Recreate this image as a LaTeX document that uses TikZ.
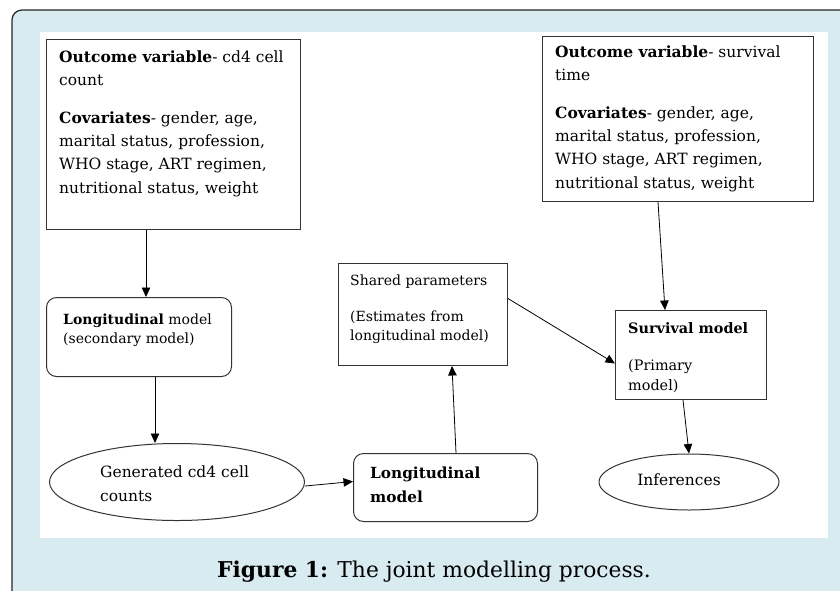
\documentclass[tikz,border=0pt]{standalone}
\usepackage{fontspec}
\setmainfont{DejaVu Serif}
\usetikzlibrary{arrows.meta,shapes.geometric}
\definecolor{framebg}{HTML}{D8EBF1}
\definecolor{lineclr}{HTML}{333333}
\begin{document}
\begin{tikzpicture}[x=1pt,y=-1pt,
  box/.style={draw=lineclr, line width=1pt, rectangle, anchor=north west, inner sep=0pt},
  rbox/.style={box, rounded corners=10pt},
  oval/.style={draw=lineclr, line width=1pt, ellipse, inner sep=0pt},
  txt/.style={anchor=base west, align=left, inner sep=0pt, font=\fontsize{15.5}{23.3}\selectfont},
  stxt/.style={anchor=base west, align=left, inner sep=0pt, font=\fontsize{14}{19}\selectfont},
  arr/.style={draw=black, line width=0.8pt, -{Triangle[length=9.5pt,width=8.5pt]}}]
\useasboundingbox (0,0) rectangle (840,590);
% frame and panel
\draw[fill=framebg, draw=black!85, line width=1.2pt, rounded corners=10pt] (12,10) rectangle (870,620);
\fill[white] (40,32) rectangle (828,538);
% boxes
\node[box, minimum width=254pt, minimum height=190pt] (b1) at (46,39) {};
\node[txt] (t1) at (59,193) {\textbf{Outcome variable}- cd4 cell\\count\\[14pt]\textbf{Covariates}- gender, age,\\marital status, profession,\\WHO stage, ART regimen,\\nutritional status, weight};
\node[box, minimum width=271pt, minimum height=165pt] (b2) at (542,36) {};
\node[txt] (t2) at (555,188) {\textbf{Outcome variable}- survival\\time\\[14pt]\textbf{Covariates}- gender, age,\\marital status, profession,\\WHO stage, ART regimen,\\nutritional status, weight};
\node[rbox, minimum width=185pt, minimum height=79pt] (lsec) at (46,297) {};
\node[stxt] (t3) at (63,343) {\textbf{Longitudinal} model\\(secondary model)};
\node[oval, minimum width=255pt, minimum height=77pt] (gen) at (177,482) {};
\node[txt] (t4) at (100,501) {Generated cd4 cell\\counts};
\node[rbox, minimum width=184pt, minimum height=68pt] (llong) at (353,453) {};
\node[txt, font=\fontsize{15.3}{24}\selectfont] (t5) at (370,502) {\textbf{Longitudinal}\\\textbf{model}};
\node[box, minimum width=169pt, minimum height=102pt] (shared) at (338,263) {};
\node[stxt] (t6) at (350,340) {Shared parameters\\[17pt](Estimates from\\longitudinal model)};
\node[box, minimum width=151pt, minimum height=89pt] (surv) at (615,310) {};
\node[stxt, font=\fontsize{14.4}{20}\selectfont] (t7) at (628,390) {\textbf{Survival model}\\[17pt](Primary\\model)};
\node[oval, minimum width=180pt, minimum height=56pt] (inf) at (689,482) {};
\node[txt, anchor=base] (t8) at (679,485) {Inferences};
% caption
\node[anchor=base, inner sep=0pt, font=\fontsize{21.8}{26}\selectfont] (cap) at (434,577) {\textbf{Figure 1:} The joint modelling process.};
% arrows
\draw[arr] ([xshift=100pt]b1.south west) -- ([xshift=100pt]lsec.north west);
\draw[arr] ([xshift=109pt]lsec.south west) -- ([xshift=-22pt]gen.north);
\draw[arr] ([yshift=-4pt]gen.east) -- ([yshift=6pt]llong.west);
\draw[arr] ([xshift=103pt]llong.north west) -- ([xshift=114pt]shared.south west);
\draw[arr] ([yshift=16pt]shared.east) -- ([yshift=-8.5pt]surv.west);
\draw[arr] ([xshift=116pt]b2.south west) -- ([xshift=50pt]surv.north west);
\draw[arr] ([xshift=68pt]surv.south west) -- (inf.north);
\end{tikzpicture}
\end{document}
